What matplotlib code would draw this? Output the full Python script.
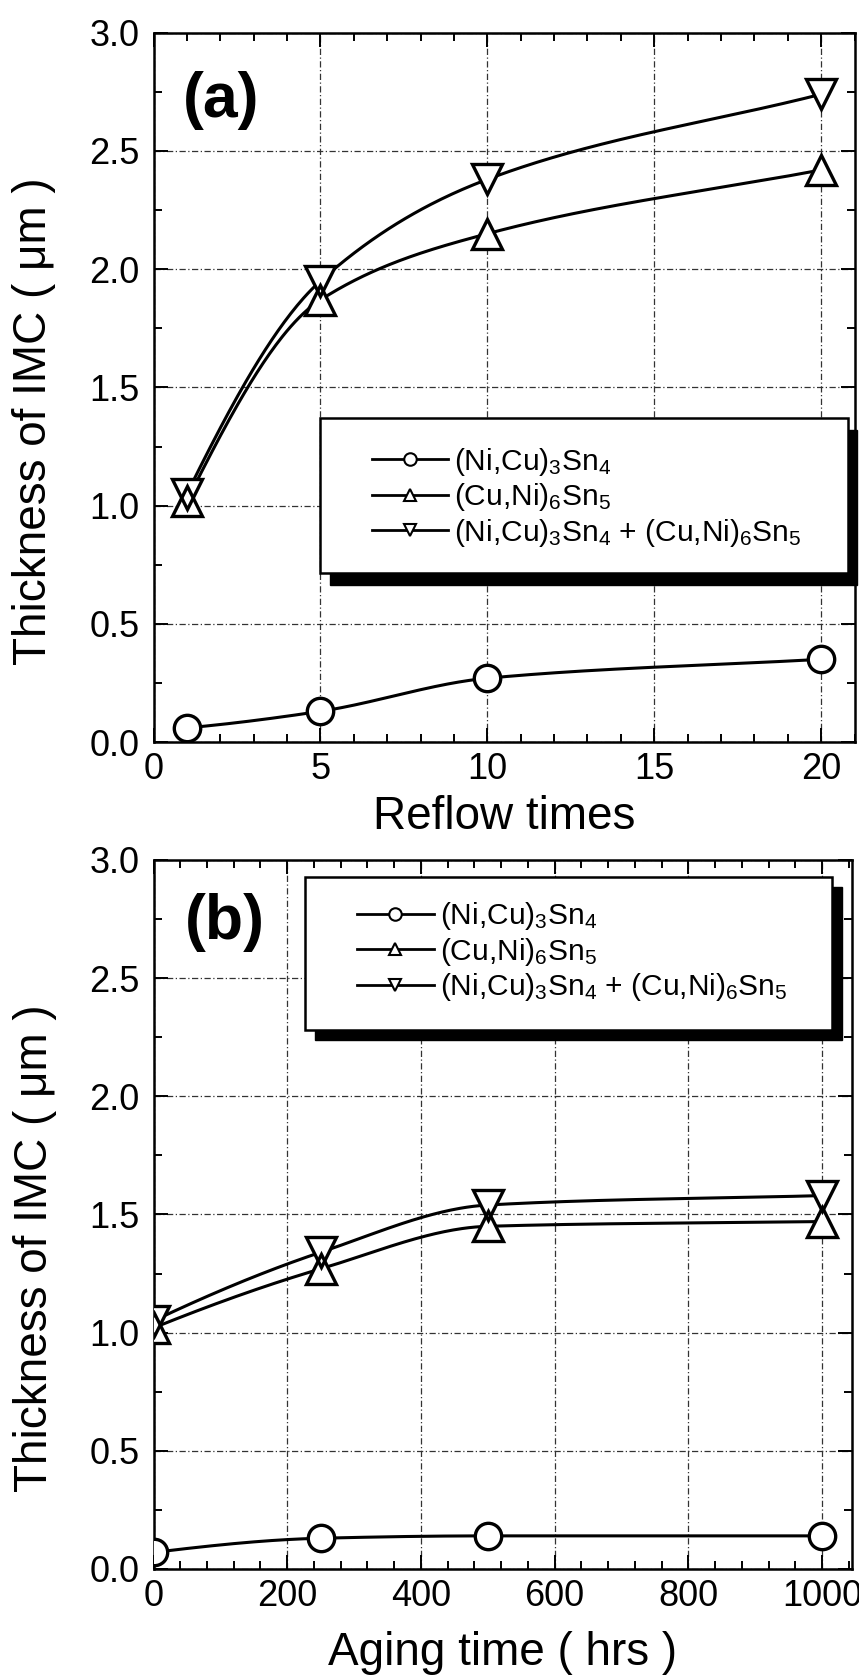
import numpy as np
import matplotlib
matplotlib.use("Agg")
import matplotlib.pyplot as plt
from matplotlib.patches import Rectangle
from matplotlib.lines import Line2D
from matplotlib.ticker import MultipleLocator, FormatStrFormatter

plt.rcParams['font.family'] = ['Liberation Sans', 'DejaVu Sans']
plt.rcParams['mathtext.fontset'] = 'custom'
plt.rcParams['mathtext.rm'] = 'Liberation Sans'
plt.rcParams['mathtext.it'] = 'Liberation Sans:italic'
plt.rcParams['mathtext.bf'] = 'Liberation Sans:bold'

# ---------------- data ----------------
reflow_times = [1, 5, 10, 20]
reflow_ni3sn4 = [0.06, 0.13, 0.27, 0.35]
reflow_cu6sn5 = [1.02, 1.87, 2.15, 2.42]
reflow_total = [1.05, 1.95, 2.38, 2.74]

aging_hours = [0, 250, 500, 1000]
aging_ni3sn4 = [0.07, 0.13, 0.14, 0.14]
aging_cu6sn5 = [1.02, 1.27, 1.45, 1.47]
aging_total = [1.05, 1.34, 1.54, 1.58]

series_labels = [r'(Ni,Cu)$_{\mathrm{3}}$Sn$_{\mathrm{4}}$',
                 r'(Cu,Ni)$_{\mathrm{6}}$Sn$_{\mathrm{5}}$',
                 r'(Ni,Cu)$_{\mathrm{3}}$Sn$_{\mathrm{4}}$ + (Cu,Ni)$_{\mathrm{6}}$Sn$_{\mathrm{5}}$']
series_markers = ['o', '^', 'v']
ylabel_text = 'Thickness of IMC ( \u03bcm )'


def smooth(x, y, xs):
    """Monotone cubic (PCHIP-style) connecting curve through the points."""
    x = np.asarray(x, float)
    y = np.asarray(y, float)
    h = np.diff(x)
    d = np.diff(y) / h
    n = len(x)
    m = np.zeros(n)
    for k in range(1, n - 1):
        if d[k - 1] * d[k] > 0:
            w1 = 2 * h[k] + h[k - 1]
            w2 = h[k] + 2 * h[k - 1]
            m[k] = (w1 + w2) / (w1 / d[k - 1] + w2 / d[k])
    mm = ((2 * h[0] + h[1]) * d[0] - h[0] * d[1]) / (h[0] + h[1])
    if np.sign(mm) != np.sign(d[0]):
        mm = 0.0
    m[0] = mm
    m[-1] = d[-1]
    idx = np.clip(np.searchsorted(x, xs) - 1, 0, n - 2)
    t = (xs - x[idx]) / h[idx]
    h00 = 2 * t**3 - 3 * t**2 + 1
    h10 = t**3 - 2 * t**2 + t
    h01 = -2 * t**3 + 3 * t**2
    h11 = t**3 - t**2
    return h00 * y[idx] + h10 * h[idx] * m[idx] + h01 * y[idx + 1] + h11 * h[idx] * m[idx + 1]


fig = plt.figure(figsize=(8.59, 16.8), dpi=100)
ax1 = fig.add_axes([0.1787, 0.5583, 0.8161, 0.4222])
ax2 = fig.add_axes([0.1787, 0.0661, 0.8134, 0.4220])

MS = {'o': 19, '^': 22, 'v': 22}


def draw_panel(ax, x, ys, xlim, xmajor, xminor):
    xs = np.linspace(min(x), max(x), 300)
    for y in ys:
        ax.plot(xs, smooth(x, y, xs), color='k', lw=2.2, zorder=3,
                solid_capstyle='butt')
    for y, mk in zip(ys, series_markers):
        ax.plot(x, y, ls='none', marker=mk, ms=MS[mk], mfc='white',
                mec='none', zorder=3.5)
    for y, mk in zip(ys, series_markers):
        ax.plot(x, y, ls='none', marker=mk, ms=MS[mk], mfc='none',
                mec='k', mew=2.4, zorder=4)
    ax.set_xlim(*xlim)
    ax.set_ylim(0, 3.0)
    ax.xaxis.set_major_locator(MultipleLocator(xmajor))
    ax.xaxis.set_minor_locator(MultipleLocator(xminor))
    ax.yaxis.set_major_locator(MultipleLocator(0.5))
    ax.yaxis.set_minor_locator(MultipleLocator(0.25))
    ax.yaxis.set_major_formatter(FormatStrFormatter('%.1f'))
    ax.tick_params(which='both', direction='in', top=True, right=True,
                   width=1.4, labelsize=26)
    ax.tick_params(which='major', length=10)
    ax.tick_params(which='minor', length=6)
    ax.tick_params(axis='x', pad=7)
    ax.tick_params(axis='y', pad=10)
    ax.grid(True, which='major', ls=(0, (5, 2, 1, 2)), lw=0.9, color='0.2',
            zorder=1)
    for sp in ax.spines.values():
        sp.set_linewidth(1.8)
    ax.set_ylabel(ylabel_text, fontsize=33)
    ax.yaxis.label.set_va('center')


def add_legend(ax, frame, handle_x, mid_y, sdx, sdy):
    x0, y0, x1, y1 = frame
    ax.add_patch(Rectangle((x0 + sdx, y0 + sdy), x1 - x0, y1 - y0,
                           transform=ax.transAxes, facecolor='k',
                           edgecolor='k', lw=1, zorder=5, clip_on=False))
    ax.add_patch(Rectangle((x0, y0), x1 - x0, y1 - y0, transform=ax.transAxes,
                           facecolor='white', edgecolor='k', lw=1.8, zorder=6,
                           clip_on=False))
    handles = [Line2D([], [], color='k', lw=2.0, marker=mk, ms=9, mfc='white',
                      mec='k', mew=1.5) for mk in series_markers]
    leg = ax.legend(handles, series_labels, loc='center left',
                    bbox_to_anchor=(handle_x, mid_y), frameon=False,
                    borderpad=0, borderaxespad=0, fontsize=21.5,
                    handlelength=2.55, handletextpad=0.2, labelspacing=0.12)
    leg.set_zorder(7)


draw_panel(ax1, reflow_times, [reflow_ni3sn4, reflow_cu6sn5, reflow_total],
           (0, 21), 5, 1)
ax1.set_xlabel('Reflow times', fontsize=33)
ax1.xaxis.label.set_va('center')
ax1.xaxis.set_label_coords(0.5, -0.106)
ax1.yaxis.set_label_coords(-0.17, 0.452)
ax1.text(0.097, 0.905, '(a)', transform=ax1.transAxes, fontsize=45,
         fontweight='bold', ha='center', va='center', zorder=8)
add_legend(ax1, (0.2379, 0.2382, 0.9903, 0.4567), 0.312, 0.345, 0.0135, -0.017)

draw_panel(ax2, aging_hours, [aging_ni3sn4, aging_cu6sn5, aging_total],
           (0, 1045), 200, 40)
ax2.set_xlabel('Aging time ( hrs )', fontsize=33)
ax2.xaxis.label.set_va('center')
ax2.xaxis.set_label_coords(0.5, -0.118)
ax2.yaxis.set_label_coords(-0.17, 0.452)
ax2.text(0.102, 0.912, '(b)', transform=ax2.transAxes, fontsize=45,
         fontweight='bold', ha='center', va='center', zorder=8)
add_legend(ax2, (0.2175, 0.7602, 0.9714, 0.9764), 0.2918, 0.8707, 0.0143, -0.0145)

fig.savefig('out.png', dpi=100)
